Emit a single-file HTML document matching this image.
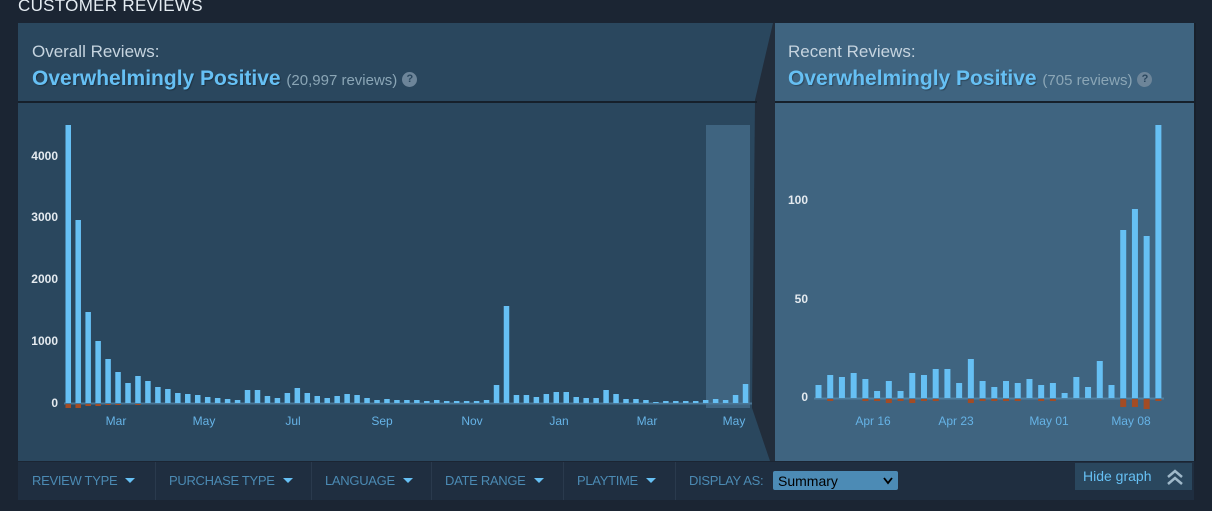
<!DOCTYPE html>
<html><head><meta charset="utf-8"><style>
html,body{margin:0;padding:0;}
body{width:1212px;height:511px;background:#1b2533;overflow:hidden;position:relative;font-family:"Liberation Sans",sans-serif;}
.abs{position:absolute;}
.title{left:18px;top:-4px;color:#e5ecf2;font-size:17px;letter-spacing:0.3px;}
.lbl{color:#c6d4df;font-size:17px;}
.big{color:#66c0f4;font-size:21px;font-weight:bold;text-shadow:1px 1px 1px rgba(0,0,0,.3);}
.cnt{color:#8ba6b6;font-size:15px;font-weight:normal;text-shadow:none;}
.q{display:inline-block;width:15px;height:15px;border-radius:8px;background:#6d8599;color:#2a475e;font-size:11px;font-weight:bold;text-align:center;line-height:15px;vertical-align:3px;margin-left:5px;text-shadow:none;}
.f{top:473px;color:#4b8ab3;font-size:13px;letter-spacing:-0.3px;}
.tri{display:inline-block;width:0;height:0;border-left:5px solid transparent;border-right:5px solid transparent;border-top:5px solid #66c0f4;margin-left:8px;vertical-align:2px;}
.div{top:462px;width:1px;height:38px;background:#2a3a4d;}
</style></head><body>
<div class="abs title">CUSTOMER REVIEWS</div>
<svg class="abs" style="left:0;top:0" width="1212" height="511" id="s">
<rect x="18" y="23" width="760" height="438" fill="#2a475e"/>
<polygon points="773,23 775,23 775,461 770,461 752,408 755,100" fill="#222d3b"/>
<rect x="775" y="23" width="419" height="438" fill="#3f6480"/>
<rect x="1194" y="23" width="2" height="438" fill="#18202b"/>
<rect x="18" y="101" width="739" height="2" fill="#16202b"/>
<rect x="775" y="101" width="419" height="2" fill="#16202b"/>
<rect x="706" y="125" width="44" height="283" fill="#3f6480"/>
<line x1="64" y1="403.5" x2="752" y2="403.5" stroke="#4a7594" stroke-width="2"/>
<line x1="814" y1="398.5" x2="1164" y2="398.5" stroke="#4f7fa0" stroke-width="2"/>
<g fill="#e4eaef" font-size="12" font-weight="bold" text-anchor="end" font-family="Liberation Sans">
<text x="58" y="160">4000</text><text x="58" y="221">3000</text><text x="58" y="283">2000</text><text x="58" y="345">1000</text><text x="58" y="407">0</text>
<text x="808" y="204">100</text><text x="808" y="303">50</text><text x="808" y="401">0</text>
</g>
<g fill="#66b3e6" font-size="12" text-anchor="middle" font-family="Liberation Sans">
<text x="116" y="425">Mar</text><text x="204" y="425">May</text><text x="293" y="425">Jul</text><text x="382" y="425">Sep</text><text x="472" y="425">Nov</text><text x="559" y="425">Jan</text><text x="647" y="425">Mar</text><text x="734" y="425">May</text>
<text x="873" y="425">Apr 16</text><text x="956" y="425">Apr 23</text><text x="1049" y="425">May 01</text><text x="1131" y="425">May 08</text>
</g>
<g id="bars"></g>
<rect x="18" y="462" width="1176" height="38" fill="#1f2e40"/>
<rect x="1075" y="463" width="117" height="27" fill="#2a475e"/>
<rect x="773" y="471" width="125" height="19" rx="2" fill="#4c8bb5"/>
<polyline points="1168,477 1175,471 1182,477" fill="none" stroke="#9fb8c9" stroke-width="2.5"/>
<polyline points="1168,484 1175,478 1182,484" fill="none" stroke="#9fb8c9" stroke-width="2.5"/>
<polyline points="884,478 888,483 892,478" fill="none" stroke="#000" stroke-width="1.8"/>
</svg>
<div class="abs" style="left:32px;top:42px;"><div class="lbl">Overall Reviews:</div><div class="big" style="margin-top:5px">Overwhelmingly Positive <span class="cnt">(20,997 reviews)</span><span class="q">?</span></div></div>
<div class="abs" style="left:788px;top:42px;"><div class="lbl">Recent Reviews:</div><div class="big" style="margin-top:5px">Overwhelmingly Positive <span class="cnt">(705 reviews)</span><span class="q">?</span></div></div>
<div class="abs f" style="left:32px">REVIEW TYPE<span class="tri"></span></div>
<div class="abs div" style="left:155px"></div>
<div class="abs f" style="left:169px">PURCHASE TYPE<span class="tri"></span></div>
<div class="abs div" style="left:311px"></div>
<div class="abs f" style="left:325px">LANGUAGE<span class="tri"></span></div>
<div class="abs div" style="left:431px"></div>
<div class="abs f" style="left:445px">DATE RANGE<span class="tri"></span></div>
<div class="abs div" style="left:563px"></div>
<div class="abs f" style="left:577px">PLAYTIME<span class="tri"></span></div>
<div class="abs div" style="left:675px"></div>
<div class="abs f" style="left:689px">DISPLAY AS:</div>
<div class="abs" style="left:778px;top:473px;font-size:14px;color:#000;">Summary</div>
<div class="abs" style="left:1083px;top:468px;font-size:14px;color:#66c0f4;">Hide graph</div>
<script>
var L=[278,183,91,62,44,31,20,27,22,16,14,10,9,8,6,5,4,3,13,13,7,5,10,15,10,7,5,7,9,8,5,3,4,3,3,3,2,3,2,2,2,2,3,18,97,8,8,6,9,11,11,6,5,5,13,9,4,4,3,1,2,2,2,2,3,4,3,8,19];
var LN={0:4,1:4,2:2,3:2,4:1,5:1,7:1};
var R=[13,23,21,25,19,7,17,7,25,23,29,29,15,39,17,11,17,15,19,13,15,5,21,11,37,13,168,189,162,273];
var RN={1:2,4:2,5:2,6:4,7:2,8:4,9:2,10:2,13:4,14:2,15:2,16:2,17:2,19:2,20:2,26:8,27:8,28:10,29:2};
var h='';
for(var i=0;i<L.length;i++){var x=65.5+i*9.96;h+='<rect x="'+x+'" y="'+(403-L[i])+'" width="5.5" height="'+L[i]+'" fill="#66c0f4"/>';if(LN[i])h+='<rect x="'+x+'" y="404" width="5.5" height="'+LN[i]+'" fill="#a34c25"/>';}
for(var j=0;j<R.length;j++){var x2=815.5+j*11.72;h+='<rect x="'+x2+'" y="'+(398-R[j])+'" width="6" height="'+R[j]+'" fill="#66c0f4"/>';if(RN[j])h+='<rect x="'+x2+'" y="399" width="6" height="'+RN[j]+'" fill="#a34c25"/>';}
document.getElementById('bars').innerHTML=h;
</script>
</body></html>
